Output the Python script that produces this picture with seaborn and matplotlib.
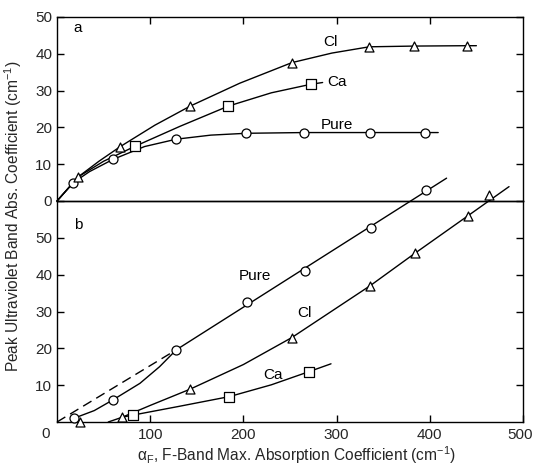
import matplotlib
matplotlib.use("Agg")
import matplotlib.pyplot as plt
import matplotlib.transforms as mtransforms
import seaborn as sns

# ---------------- data ----------------
# Panel a : markers
a_pure_x = [17.5, 60, 128, 203, 265, 336, 395]
a_pure_y = [5.0, 11.3, 16.8, 18.5, 18.6, 18.6, 18.6]
a_cl_x = [23, 68, 143, 252, 335, 383, 440]
a_cl_y = [6.6, 14.8, 25.8, 37.6, 41.9, 42.1, 42.2]
a_ca_x = [84, 184, 272]
a_ca_y = [14.9, 25.8, 31.7]
# Panel a : drawn curves (traced)
a_pure_curve_x = [0, 17.5, 35, 60, 94, 128, 165, 203, 265, 336, 395, 409]
a_pure_curve_y = [0, 5.0, 8.0, 11.3, 14.8, 16.8, 17.9, 18.4, 18.6, 18.6, 18.6, 18.6]
a_cl_curve_x = [0, 23, 45, 68, 105, 143, 196, 252, 295, 335, 383, 440, 450]
a_cl_curve_y = [0, 6.6, 10.8, 14.8, 20.6, 25.8, 32.0, 37.6, 40.2, 41.9, 42.1, 42.2, 42.2]
a_ca_curve_x = [0, 23, 50, 84, 132, 184, 230, 272, 285]
a_ca_curve_y = [0, 6.6, 10.8, 14.9, 20.3, 25.8, 29.4, 31.7, 32.2]

# Panel b : markers
b_pure_x = [18, 60, 128, 203.5, 266, 336.6, 396]
b_pure_y = [1.0, 6.0, 19.6, 32.7, 41.1, 52.8, 62.9]
b_cl_x = [24.7, 70, 142.7, 251.8, 336, 384, 441, 464]
b_cl_y = [0.1, 1.3, 8.9, 22.9, 37.0, 45.8, 56.0, 61.7]
b_ca_x = [82, 185, 270.7]
b_ca_y = [1.9, 6.9, 13.7]
# Panel b : drawn curves (traced)
b_pure_curve_x = [18, 40, 60, 89, 110, 128, 418]
b_pure_curve_y = [1.0, 3.1, 6.0, 10.5, 15.0, 19.6, 66.2]
b_pure_dash_x = [0, 128]
b_pure_dash_y = [0, 19.6]
b_cl_curve_x = [55, 70, 100, 142.7, 200, 251.8, 336, 384, 441, 485]
b_cl_curve_y = [0, 1.3, 4.5, 8.9, 15.6, 22.9, 37.0, 45.8, 56.0, 63.9]
b_ca_curve_x = [70, 82, 130, 185, 230, 270.7, 294]
b_ca_curve_y = [1.3, 1.9, 4.2, 6.9, 10.1, 13.7, 15.8]

x_ticks = [100, 200, 300, 400, 500]
a_yticks = [0, 10, 20, 30, 40, 50]
b_yticks = [10, 20, 30, 40, 50]

# ---------------- style ----------------
sns.set_theme(style="ticks")
plt.rcParams["font.family"] = ["Liberation Sans", "DejaVu Sans"]
plt.rcParams["mathtext.fontset"] = "custom"
plt.rcParams["mathtext.rm"] = "Liberation Sans"
plt.rcParams["mathtext.it"] = "Liberation Sans:italic"
plt.rcParams["axes.linewidth"] = 1.0

fig = plt.figure(figsize=(5.34, 4.66), dpi=100)
L, W = 57 / 534, (523 - 57) / 534
ax_top = fig.add_axes([L, 1 - 201 / 466, W, (201 - 17) / 466])
ax_bot = fig.add_axes([L, 1 - 422 / 466, W, (422 - 201) / 466])
for ax in (ax_top, ax_bot):
    ax.patch.set_visible(False)
    for s in ax.spines.values():
        s.set_color("black")
        s.set_linewidth(1.0)

LW = 1.0
MS = 42
mk = dict(facecolor="white", edgecolor="black", linewidth=0.9, zorder=5, clip_on=False)


def curve(ax, x, y, **kw):
    sns.lineplot(x=x, y=y, ax=ax, color="black", lw=LW, sort=False,
                 estimator=None, clip_on=False, **kw)


def marks(ax, x, y, m):
    sns.scatterplot(x=x, y=y, ax=ax, marker=m, s=MS, **mk)


# Panel a
curve(ax_top, a_pure_curve_x, a_pure_curve_y)
curve(ax_top, a_cl_curve_x, a_cl_curve_y)
curve(ax_top, a_ca_curve_x, a_ca_curve_y)
marks(ax_top, a_pure_x, a_pure_y, "o")
marks(ax_top, a_cl_x, a_cl_y, "^")
marks(ax_top, a_ca_x, a_ca_y, "s")

# Panel b
curve(ax_bot, b_pure_curve_x, b_pure_curve_y)
curve(ax_bot, b_pure_dash_x, b_pure_dash_y, linestyle=(0, (7, 4)))
curve(ax_bot, b_cl_curve_x, b_cl_curve_y)
curve(ax_bot, b_ca_curve_x, b_ca_curve_y)
marks(ax_bot, b_pure_x, b_pure_y, "o")
marks(ax_bot, b_cl_x, b_cl_y, "^")
marks(ax_bot, b_ca_x, b_ca_y, "s")

# axes limits / ticks
ax_top.set_xlim(0, 500)
ax_bot.set_xlim(0, 500)
ax_top.set_ylim(0, 50)
ax_bot.set_ylim(0, 60)
for ax in (ax_top, ax_bot):
    ax.set_xlabel("")
    ax.set_ylabel("")

ax_top.set_xticks(x_ticks[:-1])
ax_top.set_yticks(a_yticks)
ax_top.set_yticklabels([str(v) for v in a_yticks])
ax_top.tick_params(axis="both", direction="in", length=5, width=1, color="black",
                   top=True, bottom=False, right=True, left=True,
                   labelbottom=False, labeltop=False, labelsize=11)
ax_top.tick_params(axis="y", pad=3.5)

ax_bot.set_xticks(x_ticks)
ax_bot.set_xticklabels([str(v) for v in x_ticks])
ax_bot.set_yticks(b_yticks)
ax_bot.set_yticklabels([str(v) for v in b_yticks])
ax_bot.tick_params(axis="both", direction="in", length=5, width=1, color="black",
                   top=False, bottom=True, right=True, left=True, labelsize=11)
ax_bot.tick_params(axis="y", pad=3.5)
ax_bot.tick_params(axis="x", pad=4)

# keep the "500" label inside the canvas, right edge as in reference
last = ax_bot.get_xticklabels()[-1]
last.set_horizontalalignment("right")
last.set_transform(last.get_transform()
                   + mtransforms.ScaledTranslation(10 / 100, 0, fig.dpi_scale_trans))

ax_bot.annotate("0", xy=(0, 0), xycoords="data", xytext=(-8, -9),
                textcoords="offset points", ha="center", va="center", fontsize=11)

# in-plot labels
tk = dict(ha="center", va="center", fontsize=11, color="black")
ax_top.text(21.8, 46.9, "a", **tk)
ax_bot.text(22.9, 53.5, "b", **tk)
ax_top.text(293, 43.2, "Cl", **tk)
ax_top.text(300, 32.4, "Ca", **tk)
ax_top.text(300, 20.6, "Pure", **tk)
ax_bot.text(212, 39.7, "Pure", **tk)
ax_bot.text(266, 29.5, "Cl", **tk)
ax_bot.text(232, 12.8, "Ca", **tk)

# axis titles
fig.text(13 / 534, 1 - 216 / 466, "Peak Ultraviolet Band Abs. Coefficient (cm$^{-1}$)",
         rotation=90, ha="center", va="center", fontsize=11.2)
fig.text(296 / 534, 1 - 455 / 466,
         "\u03b1$_\\mathrm{F}$, F-Band Max. Absorption Coefficient (cm$^{-1}$)",
         ha="center", va="center", fontsize=11.2)

fig.savefig("out.png", dpi=100, facecolor="white")
